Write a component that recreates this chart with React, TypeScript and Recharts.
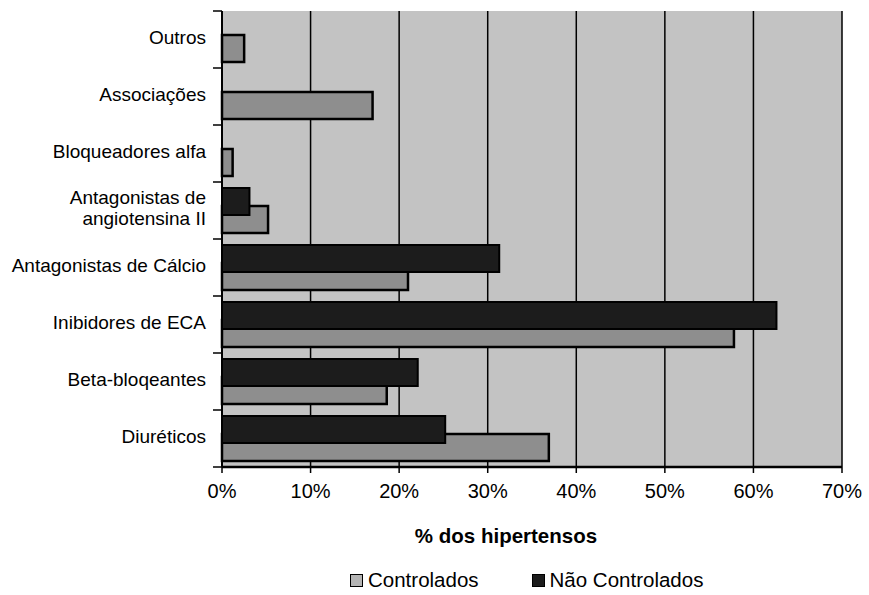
import React from "react";
import { BarChart, Bar, XAxis, YAxis, CartesianGrid, Legend, ReferenceLine } from "recharts";

// categorias (de cima para baixo) e valores em % dos hipertensos
const categories = [
  "Outros",
  "Associações",
  "Bloqueadores alfa",
  "Antagonistas de\nangiotensina II",
  "Antagonistas de Cálcio",
  "Inibidores de ECA",
  "Beta-bloqeantes",
  "Diuréticos",
];
const controlados = [2.5, 17.0, 1.2, 5.2, 21.0, 57.8, 18.6, 36.9];
const naoControlados = [0, 0, 0, 3.1, 31.3, 62.6, 22.1, 25.2];
const xTicks = [0, 10, 20, 30, 40, 50, 60, 70];

const data = categories.map((name, i) => ({
  name,
  controlados: controlados[i],
  naoControlados: naoControlados[i],
}));

const FONT = '"Liberation Sans", Arial, sans-serif';
const LIGHT = "#8e8e8e";
const DARK = "#1c1c1c";
const LABEL_GAP = 16;

// rótulo da categoria + marcas de divisão entre categorias (estilo Excel)
function CategoryTick({ x, y, payload, index, visibleTicksCount }: any) {
  const lines = String(payload.value).split("\n");
  const lh = 21;
  const half = Number(payload.offset) || 0;
  const ax = x + LABEL_GAP;
  const isLast = index === visibleTicksCount - 1;
  return (
    <g>
      {half > 0 && <line x1={ax - 9} x2={ax} y1={y - half} y2={y - half} stroke="#000" strokeWidth={1.5} />}
      {half > 0 && isLast && (
        <line x1={ax - 9} x2={ax} y1={y + half} y2={y + half} stroke="#000" strokeWidth={1.5} />
      )}
      <text x={x} y={y} textAnchor="end" fontSize={19} fontFamily={FONT} fill="#000">
        {lines.map((l, i) => (
          <tspan key={i} x={x} dy={i === 0 ? 4 - ((lines.length - 1) * lh) / 2 : lh}>
            {l}
          </tspan>
        ))}
      </text>
    </g>
  );
}

function LegendBox() {
  const item = (color: string, label: string, gap: number) => (
    <div style={{ display: "flex", alignItems: "center", marginRight: gap }}>
      <span
        style={{
          display: "inline-block",
          width: 11,
          height: 11,
          background: color,
          border: "1.5px solid #000",
          marginRight: 5,
        }}
      />
      <span>{label}</span>
    </div>
  );
  return (
    <div
      style={{
        height: 30,
        display: "flex",
        alignItems: "center",
        paddingLeft: 350,
        fontSize: 20.5,
        fontFamily: FONT,
        color: "#000",
      }}
    >
      {item("#b4b4b4", "Controlados", 53)}
      {item(DARK, "Não Controlados", 0)}
    </div>
  );
}

export default function App() {
  return (
    <div style={{ position: "absolute", left: 0, top: 0, background: "#fff", fontFamily: FONT }}>
      <BarChart
        layout="vertical"
        width={869}
        height={595}
        data={data}
        margin={{ top: 11, right: 27, bottom: 0, left: 0 }}
        barSize={27}
        barGap={-9}
      >
        <CartesianGrid
          yAxisId="cat"
          horizontal={false}
          stroke="#000"
          strokeWidth={1.5}
          fill="#c3c3c3"
          fillOpacity={1}
        />
        <XAxis
          type="number"
          domain={[0, 70]}
          ticks={xTicks}
          tickFormatter={(v: number) => `${v}%`}
          height={98}
          axisLine={{ stroke: "#000", strokeWidth: 2.5 }}
          tickLine={{ stroke: "#000", strokeWidth: 1.5 }}
          tickSize={6}
          tickMargin={11}
          tick={{ fontSize: 20, fill: "#000", fontFamily: FONT }}
          label={{
            value: "% dos hipertensos",
            position: "insideBottom",
            offset: 22,
            dx: -26,
            style: { fontSize: 20.5, fontWeight: "bold", fill: "#000", fontFamily: FONT },
          }}
        />
        <YAxis yAxisId="bounds" type="number" domain={[0, 8]} allowDataOverflow hide width={0} />
        <YAxis
          yAxisId="cat"
          type="category"
          dataKey="name"
          width={222}
          interval={0}
          axisLine={{ stroke: "#000", strokeWidth: 2 }}
          tickLine={false}
          tickSize={0}
          tickMargin={LABEL_GAP}
          tick={<CategoryTick />}
        />
        <ReferenceLine yAxisId="bounds" y={8} stroke="#222" strokeWidth={1.5} strokeDasharray="4 1" />
        <Bar
          yAxisId="cat"
          dataKey="naoControlados"
          name="Não Controlados"
          fill={DARK}
          stroke="#000"
          strokeWidth={2}
          isAnimationActive={false}
          zIndex={450}
        />
        <Bar
          yAxisId="cat"
          dataKey="controlados"
          name="Controlados"
          fill={LIGHT}
          stroke="#000"
          strokeWidth={2.5}
          isAnimationActive={false}
          zIndex={400}
        />
        <Legend verticalAlign="bottom" content={() => <LegendBox />} />
      </BarChart>
    </div>
  );
}
